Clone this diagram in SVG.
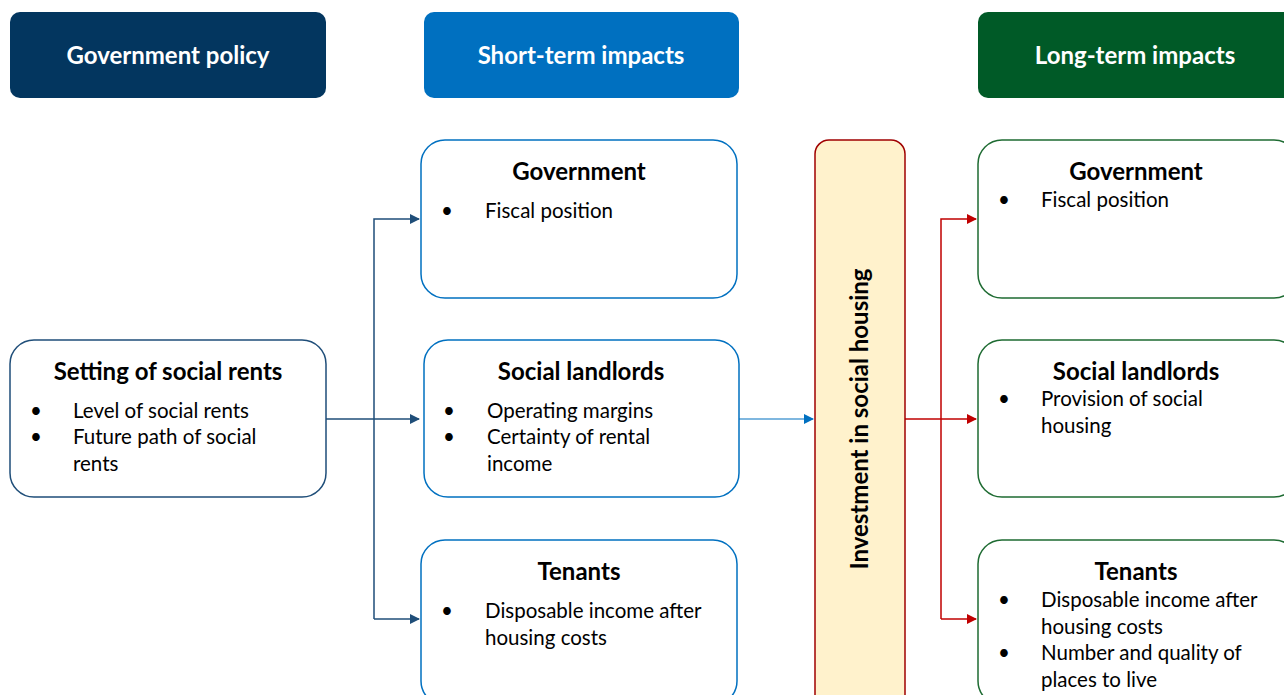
<svg xmlns="http://www.w3.org/2000/svg" width="1284" height="695" viewBox="0 0 1284 695">
<defs>
<style>
.t{font-family:Lato,"Open Sans","Liberation Sans",sans-serif;fill:#000}
.h{font-family:Lato,"Open Sans","Liberation Sans",sans-serif;font-weight:bold;font-size:24px;fill:#fff;text-anchor:middle}
.ttl{font-weight:bold;font-size:24px;text-anchor:middle}
.b{font-size:20.5px}
.pol{fill:#fff;stroke:#1F4E79;stroke-width:1.5}
.st{fill:#fff;stroke:#0070C0;stroke-width:1.5}
.lt{fill:#fff;stroke:#1E6B32;stroke-width:1.5}
.navy{stroke:#1F4E79;stroke-width:1.5;fill:none}
.blue{stroke:#0070C0;stroke-width:1.2;fill:none}
.red{stroke:#C00000;stroke-width:1.5;fill:none}
</style>
<marker id="aN" markerWidth="10" markerHeight="10" refX="9" refY="5" orient="auto" markerUnits="userSpaceOnUse"><path d="M0,0 L10,5 L0,10 Z" fill="#1F4E79"/></marker>
<marker id="aB" markerWidth="10" markerHeight="10" refX="9" refY="5" orient="auto" markerUnits="userSpaceOnUse"><path d="M0,0 L10,5 L0,10 Z" fill="#0070C0"/></marker>
<marker id="aR" markerWidth="10" markerHeight="10" refX="9" refY="5" orient="auto" markerUnits="userSpaceOnUse"><path d="M0,0 L10,5 L0,10 Z" fill="#C00000"/></marker>
</defs>
<rect width="1284" height="695" fill="#fff"/>

<g id="hdr-policy"><rect x="10" y="12" width="316" height="86" rx="10" fill="#03365F"/><text class="h" x="168" y="64">Government policy</text></g>
<g id="hdr-short"><rect x="424" y="12" width="315" height="86" rx="10" fill="#0070C0"/><text class="h" x="581" y="64">Short-term impacts</text></g>
<g id="hdr-long"><rect x="978" y="12" width="320" height="86" rx="10" fill="#005A27"/><text class="h" x="1135" y="64">Long-term impacts</text></g>

<g id="connectors">
<path class="navy" d="M326,419 H419" marker-end="url(#aN)"/>
<path class="navy" d="M374,619 V219 H419" marker-end="url(#aN)"/>
<path class="navy" d="M374,619 H419" marker-end="url(#aN)"/>
<path class="blue" d="M739,419 H813" marker-end="url(#aB)"/>
<path class="red" d="M905,419 H976" marker-end="url(#aR)"/>
<path class="red" d="M941,619 V219 H976" marker-end="url(#aR)"/>
<path class="red" d="M941,619 H976" marker-end="url(#aR)"/>
</g>

<g id="setting"><rect class="pol" x="10" y="340" width="316" height="157" rx="24"/>
<text class="t ttl" x="168" y="380">Setting of social rents</text>
<text class="t b"><tspan x="30" y="418">•</tspan><tspan x="73" y="418">Level of social rents</tspan><tspan x="30" y="444">•</tspan><tspan x="73" y="444">Future path of social</tspan><tspan x="73" y="471">rents</tspan></text></g>

<g id="st-gov"><rect class="st" x="421" y="140" width="316" height="158" rx="24"/>
<text class="t ttl" x="579" y="180">Government</text>
<text class="t b"><tspan x="441" y="218">•</tspan><tspan x="485" y="218">Fiscal position</tspan></text></g>

<g id="st-landlords"><rect class="st" x="424" y="340" width="315" height="157" rx="24"/>
<text class="t ttl" x="581" y="380">Social landlords</text>
<text class="t b"><tspan x="443" y="418">•</tspan><tspan x="487" y="418">Operating margins</tspan><tspan x="443" y="444">•</tspan><tspan x="487" y="444">Certainty of rental</tspan><tspan x="487" y="471">income</tspan></text></g>

<g id="st-tenants"><rect class="st" x="421" y="540" width="316" height="165" rx="24"/>
<text class="t ttl" x="579" y="580">Tenants</text>
<text class="t b"><tspan x="441" y="618">•</tspan><tspan x="485" y="618">Disposable income after</tspan><tspan x="485" y="645">housing costs</tspan></text></g>

<g id="investment"><rect x="815" y="140" width="90" height="570" rx="14" fill="#FFF2CC" stroke="#A00000" stroke-width="1.5"/>
<text class="t ttl" transform="translate(868,419) rotate(-90)" x="0" y="0">Investment in social housing</text></g>

<g id="lt-gov"><rect class="lt" x="978" y="140" width="320" height="158" rx="24"/>
<text class="t ttl" x="1136" y="180">Government</text>
<text class="t b"><tspan x="998" y="207">•</tspan><tspan x="1041" y="207">Fiscal position</tspan></text></g>

<g id="lt-landlords"><rect class="lt" x="978" y="340" width="320" height="157" rx="24"/>
<text class="t ttl" x="1136" y="380">Social landlords</text>
<text class="t b"><tspan x="998" y="406">•</tspan><tspan x="1041" y="406">Provision of social</tspan><tspan x="1041" y="433">housing</tspan></text></g>

<g id="lt-tenants"><rect class="lt" x="978" y="540" width="320" height="165" rx="24"/>
<text class="t ttl" x="1136" y="580">Tenants</text>
<text class="t b"><tspan x="998" y="607">•</tspan><tspan x="1041" y="607">Disposable income after</tspan><tspan x="1041" y="634">housing costs</tspan><tspan x="998" y="660">•</tspan><tspan x="1041" y="660">Number and quality of</tspan><tspan x="1041" y="687">places to live</tspan></text></g>
</svg>
